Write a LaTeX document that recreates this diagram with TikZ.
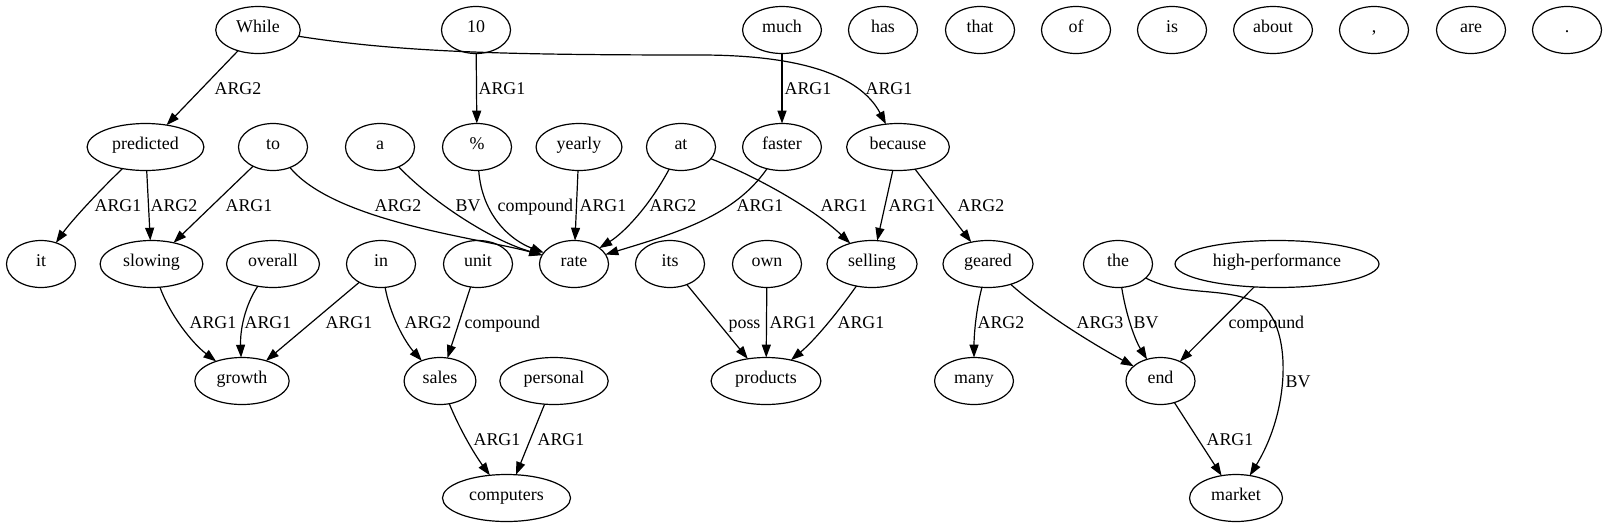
\documentclass[tikz,border=0pt]{standalone}
\usepackage{fontspec}
\setmainfont{Liberation Serif}
\usepackage{tikz}
\usetikzlibrary{shapes.geometric,arrows.meta}

\begin{document}
\begin{tikzpicture}[x=1pt, y=-1pt]
	\tikzstyle{Word} = [ellipse, draw, line width=1.2pt, minimum width=69pt, minimum height=47pt, inner xsep=8pt, inner ysep=2pt, outer sep=0pt, font=\fontsize{17.9pt}{20pt}\selectfont, text height=0.66em, text depth=0.16em]
	\tikzstyle{Arc} = [line width=1.2pt, -{Triangle[length=12.8pt, width=9pt]}]
	\tikzstyle{Lbl} = [anchor=base west, inner sep=0pt, font=\fontsize{17.9pt}{20pt}\selectfont]

	\useasboundingbox (0,0) rectangle (1608,528);

	\node (While) at (258, 30) [Word] {While};
	\node (ten) at (476, 30) [Word] {10};
	\node (much) at (782, 30) [Word] {much};
	\node (has) at (883, 30) [Word] {has};
	\node (that) at (980, 30) [Word] {that};
	\node (of) at (1076, 30) [Word] {of};
	\node (is) at (1172, 30) [Word] {is};
	\node (about) at (1273, 30) [Word] {about};
	\node (comma) at (1374, 30) [Word] {,};
	\node (are) at (1471, 30) [Word] {are};
	\node (period) at (1567, 30) [Word] {.};

	\node (predicted) at (145.5, 147) [Word] {predicted};
	\node (to) at (273, 147) [Word] {to};
	\node (a) at (380, 147) [Word] {a};
	\node (pct) at (477, 147) [Word] {\%};
	\node (yearly) at (579, 147) [Word] {yearly};
	\node (at) at (681, 147) [Word] {at};
	\node (faster) at (782, 147) [Word] {faster};
	\node (because) at (898, 147) [Word] {because};

	\node (it) at (41, 264) [Word] {it};
	\node (slowing) at (151.5, 264) [Word] {slowing};
	\node (overall) at (273, 264) [Word] {overall};
	\node (in) at (381, 264) [Word] {in};
	\node (unit) at (478, 264) [Word] {unit};
	\node (rate) at (574, 264) [Word] {rate};
	\node (its) at (670, 264) [Word] {its};
	\node (own) at (767, 264) [Word] {own};
	\node (selling) at (872, 264) [Word] {selling};
	\node (geared) at (988, 264) [Word] {geared};
	\node (the) at (1118, 264) [Word] {the};
	\node (highperf) at (1277, 264) [Word] {high-performance};

	\node (growth) at (242, 381) [Word] {growth};
	\node (sales) at (440, 381) [Word] {sales};
	\node (personal) at (554, 381) [Word] {personal};
	\node (products) at (766, 381) [Word] {products};
	\node (many) at (974, 381) [Word] {many};
	\node (end) at (1160.5, 381) [Word] {end};

	\node (computers) at (506.5, 498) [Word] {computers};
	\node (market) at (1236, 498) [Word] {market};

	\draw [Arc] (While) -- (predicted) node [Lbl] at (214, 94.5) {ARG2};
	\draw [Arc] (While) .. controls (400, 52) and (500, 55) .. (700, 55) .. controls (800, 55) and (860, 75) .. (because) node [Lbl] at (865, 94.5) {ARG1};
	\draw [Arc] (ten) -- (pct) node [Lbl] at (478, 94.5) {ARG1};
	\draw [Arc] (much) -- (faster) node [Lbl] at (784, 94.5) {ARG1};

	\draw [Arc] (predicted) .. controls (103, 187) and (72, 220) .. (it) node [Lbl] at (94, 211.5) {ARG1};
	\draw [Arc] (predicted) -- (slowing) node [Lbl] at (150, 211.5) {ARG2};
	\draw [Arc] (to) -- (slowing) node [Lbl] at (225, 211.5) {ARG1};
	\draw [Arc] (to) .. controls (335, 222) and (480, 238) .. (rate) node [Lbl] at (374, 211.5) {ARG2};
	\draw [Arc] (a) .. controls (430, 200) and (490, 240) .. (rate) node [Lbl] at (455, 211.5) {BV};
	\draw [Arc] (pct) .. controls (482, 215) and (510, 240) .. (rate) node [Lbl] at (497, 211.5) {compound};
	\draw [Arc] (yearly) -- (rate) node [Lbl] at (579, 211.5) {ARG1};
	\draw [Arc] (at) .. controls (650, 205) and (625, 232) .. (rate) node [Lbl] at (649, 211.5) {ARG2};
	\draw [Arc] (faster) .. controls (735, 215) and (680, 232) .. (rate) node [Lbl] at (736, 211.5) {ARG1};
	\draw [Arc] (at) .. controls (760, 178) and (815, 210) .. (selling) node [Lbl] at (820, 211.5) {ARG1};
	\draw [Arc] (because) -- (selling) node [Lbl] at (888, 211.5) {ARG1};
	\draw [Arc] (because) -- (geared) node [Lbl] at (957, 211.5) {ARG2};

	\draw [Arc] (slowing) .. controls (170, 315) and (192, 343) .. (growth) node [Lbl] at (189, 328.5) {ARG1};
	\draw [Arc] (overall) .. controls (245, 305) and (240, 330) .. (growth) node [Lbl] at (244, 328.5) {ARG1};
	\draw [Arc] (in) -- (growth) node [Lbl] at (325, 328.5) {ARG1};
	\draw [Arc] (in) .. controls (390, 315) and (405, 342) .. (sales) node [Lbl] at (404, 328.5) {ARG2};
	\draw [Arc] (unit) -- (sales) node [Lbl] at (464, 328.5) {compound};
	\draw [Arc] (its) -- (products) node [Lbl] at (728, 328.5) {poss};
	\draw [Arc] (own) -- (products) node [Lbl] at (769, 328.5) {ARG1};
	\draw [Arc] (selling) .. controls (838, 312) and (815, 340) .. (products) node [Lbl] at (837, 328.5) {ARG1};
	\draw [Arc] (geared) .. controls (976, 310) and (974, 335) .. (many) node [Lbl] at (977, 328.5) {ARG2};
	\draw [Arc] (geared) .. controls (1045, 315) and (1095, 345) .. (end) node [Lbl] at (1076, 328.5) {ARG3};
	\draw [Arc] (the) .. controls (1126, 315) and (1135, 340) .. (end) node [Lbl] at (1133, 328.5) {BV};
	\draw [Arc] (highperf) -- (end) node [Lbl] at (1228, 328.5) {compound};
	\draw [Arc] (the) .. controls (1185, 298) and (1225, 285) .. (1262, 305) .. controls (1292, 330) and (1290, 410) .. (market) node [Lbl] at (1285, 387) {BV};

	\draw [Arc] (sales) .. controls (460, 430) and (475, 455) .. (computers) node [Lbl] at (473, 445.5) {ARG1};
	\draw [Arc] (personal) -- (computers) node [Lbl] at (537, 445.5) {ARG1};
	\draw [Arc] (end) -- (market) node [Lbl] at (1206, 445.5) {ARG1};
\end{tikzpicture}
\end{document}
